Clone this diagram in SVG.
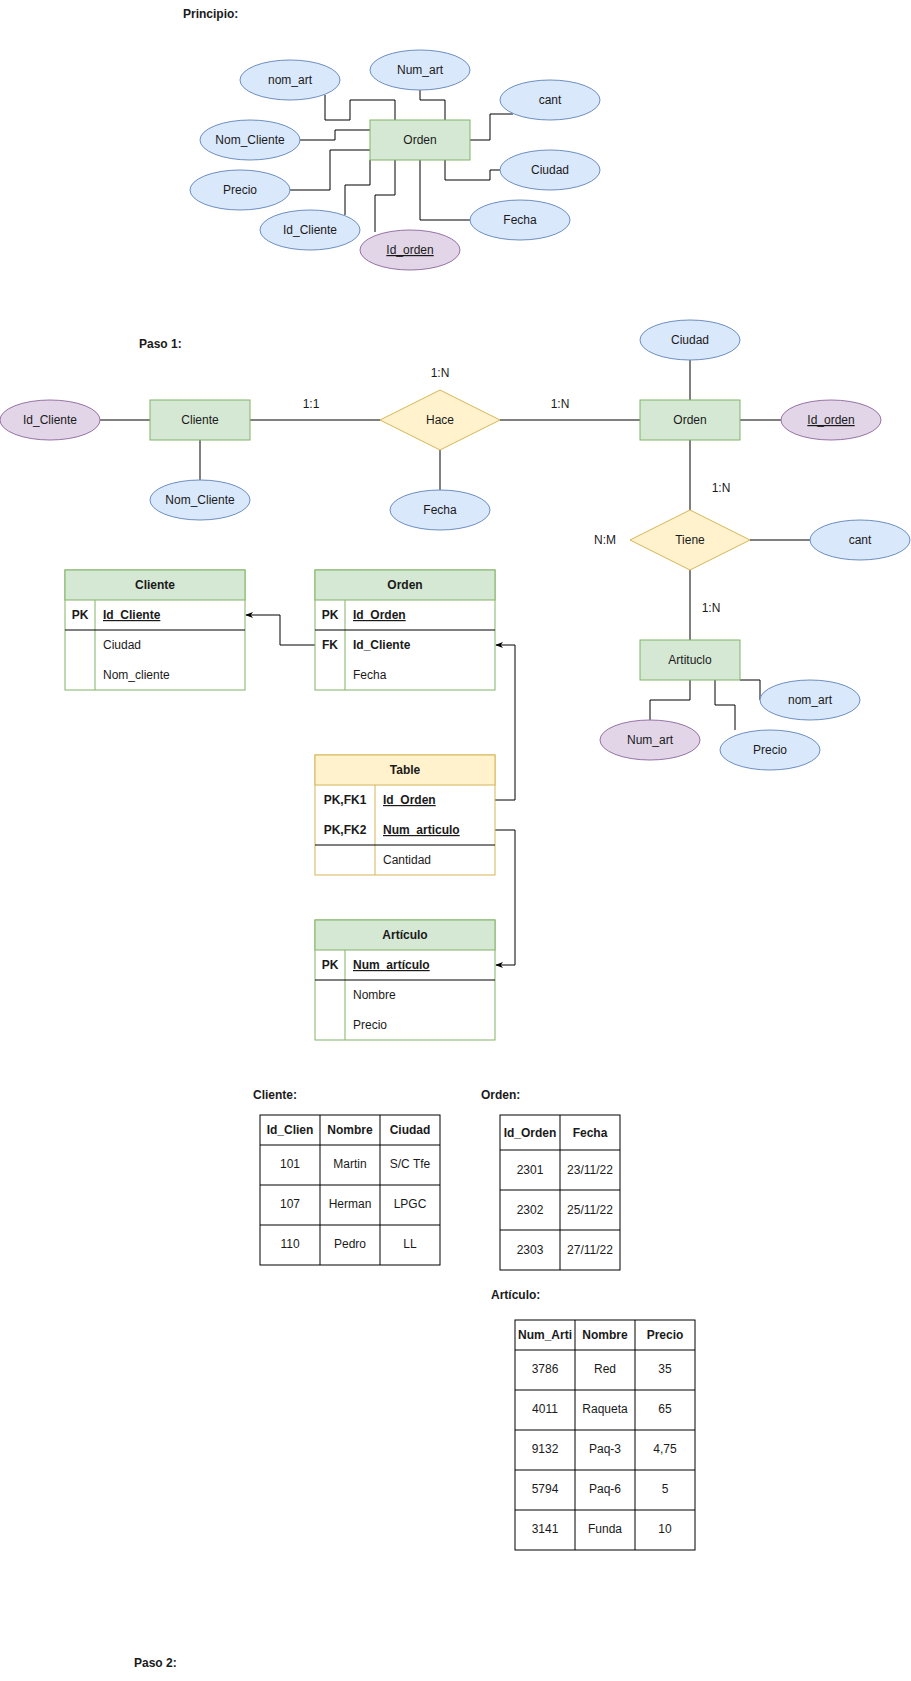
<svg xmlns="http://www.w3.org/2000/svg" width="911" height="1681" viewBox="0 0 911 1681">
<defs>
<style>
text{font-family:"Liberation Sans",Arial,Helvetica,sans-serif;font-size:12px;fill:#1a1a1a}
.c{text-anchor:middle}
.b{font-weight:bold}
.u{text-decoration:underline}
.blue{fill:#dae8fc;stroke:#6c8ebf;stroke-width:1}
.green{fill:#d5e8d4;stroke:#82b366;stroke-width:1}
.purple{fill:#e1d5e7;stroke:#9673a6;stroke-width:1}
.yellow{fill:#fff2cc;stroke:#d6b656;stroke-width:1}
.edge{fill:none;stroke:#000;stroke-width:1}
.gbox{fill:#fff;stroke:#82b366;stroke-width:1}
.ybox{fill:#fff;stroke:#d6b656;stroke-width:1}
.sep{stroke:#000;stroke-width:1}
.gl{stroke:#82b366;stroke-width:1}
.yl{stroke:#d6b656;stroke-width:1}
.cell{fill:#fff;stroke:#000;stroke-width:1}
</style>
<marker id="arr" viewBox="0 0 10 10" refX="9" refY="5" markerWidth="8" markerHeight="8" markerUnits="userSpaceOnUse" orient="auto">
<path d="M0,1 L10,5 L0,9 L3,5 Z" fill="#000"/>
</marker>
</defs>
<rect width="911" height="1681" fill="#fff"/>

<!-- Titles -->
<g id="titles">
<text x="183" y="18" class="b">Principio:</text>
<text x="139" y="348" class="b">Paso 1:</text>
<text x="253" y="1099" class="b">Cliente:</text>
<text x="481" y="1099" class="b">Orden:</text>
<text x="491" y="1299" class="b">Artículo:</text>
<text x="134" y="1667" class="b">Paso 2:</text>
</g>

<!-- Connectors -->
<g id="connectors">
<!-- Principio -->
<path class="edge" d="M325,95 V120 H350 V100 H395 V120"/>
<path class="edge" d="M420,90 V100 H445 V120"/>
<path class="edge" d="M470,140 H490 V114 H513"/>
<path class="edge" d="M300,140 H335 V130 H370"/>
<path class="edge" d="M290,190 H330 V150 H370"/>
<path class="edge" d="M345,215 V185 H370 V160"/>
<path class="edge" d="M375,232 V195 H395 V160"/>
<path class="edge" d="M420,160 V220 H470"/>
<path class="edge" d="M445,160 V180 H490 V170 H500"/>
<!-- Paso 1 -->
<path class="edge" d="M100,420 H150"/>
<path class="edge" d="M250,420 H380"/>
<path class="edge" d="M500,420 H640"/>
<path class="edge" d="M740,420 H781"/>
<path class="edge" d="M690,360 V400"/>
<path class="edge" d="M200,440 V480"/>
<path class="edge" d="M440,450 V490"/>
<path class="edge" d="M690,440 V510"/>
<path class="edge" d="M750,540 H810"/>
<path class="edge" d="M690,570 V640"/>
<path class="edge" d="M690,680 V700 H650 V720"/>
<path class="edge" d="M715,680 V705 H735 V730"/>
<path class="edge" d="M740,680 H760 V700"/>
<!-- Relational -->
<path class="edge" d="M315,645 H280 V615 H246" marker-end="url(#arr)"/>
<path class="edge" d="M495,800 H515 V645 H496" marker-end="url(#arr)"/>
<path class="edge" d="M495,830 H515 V965 H496" marker-end="url(#arr)"/>
</g>

<!-- Principio nodes -->
<g id="p-nom_art"><ellipse class="blue" cx="290" cy="80" rx="50" ry="20"/><text class="c" x="290" y="84">nom_art</text></g>
<g id="p-num_art"><ellipse class="blue" cx="420" cy="70" rx="50" ry="20"/><text class="c" x="420" y="74">Num_art</text></g>
<g id="p-cant"><ellipse class="blue" cx="550" cy="100" rx="50" ry="20"/><text class="c" x="550" y="104">cant</text></g>
<g id="p-orden"><rect class="green" x="370" y="120" width="100" height="40"/><text class="c" x="420" y="144">Orden</text></g>
<g id="p-nom_cliente"><ellipse class="blue" cx="250" cy="140" rx="50" ry="20"/><text class="c" x="250" y="144">Nom_Cliente</text></g>
<g id="p-ciudad"><ellipse class="blue" cx="550" cy="170" rx="50" ry="20"/><text class="c" x="550" y="174">Ciudad</text></g>
<g id="p-precio"><ellipse class="blue" cx="240" cy="190" rx="50" ry="20"/><text class="c" x="240" y="194">Precio</text></g>
<g id="p-id_cliente"><ellipse class="blue" cx="310" cy="230" rx="50" ry="20"/><text class="c" x="310" y="234">Id_Cliente</text></g>
<g id="p-fecha"><ellipse class="blue" cx="520" cy="220" rx="50" ry="20"/><text class="c" x="520" y="224">Fecha</text></g>
<g id="p-id_orden"><ellipse class="purple" cx="410" cy="250" rx="50" ry="20"/><text class="c u" x="410" y="254">Id_orden</text></g>

<!-- Paso 1 nodes -->
<g id="s1-id_cliente"><ellipse class="purple" cx="50" cy="420" rx="50" ry="20"/><text class="c" x="50" y="424">Id_Cliente</text></g>
<g id="s1-cliente"><rect class="green" x="150" y="400" width="100" height="40"/><text class="c" x="200" y="424">Cliente</text></g>
<g id="s1-nom_cliente"><ellipse class="blue" cx="200" cy="500" rx="50" ry="20"/><text class="c" x="200" y="504">Nom_Cliente</text></g>
<g id="s1-hace"><polygon class="yellow" points="440,390 500,420 440,450 380,420"/><text class="c" x="440" y="424">Hace</text></g>
<g id="s1-fecha"><ellipse class="blue" cx="440" cy="510" rx="50" ry="20"/><text class="c" x="440" y="514">Fecha</text></g>
<g id="s1-ciudad"><ellipse class="blue" cx="690" cy="340" rx="50" ry="20"/><text class="c" x="690" y="344">Ciudad</text></g>
<g id="s1-orden"><rect class="green" x="640" y="400" width="100" height="40"/><text class="c" x="690" y="424">Orden</text></g>
<g id="s1-id_orden"><ellipse class="purple" cx="831" cy="420" rx="50" ry="20"/><text class="c u" x="831" y="424">Id_orden</text></g>
<g id="s1-tiene"><polygon class="yellow" points="690,510 750,540 690,570 630,540"/><text class="c" x="690" y="544">Tiene</text></g>
<g id="s1-cant"><ellipse class="blue" cx="860" cy="540" rx="50" ry="20"/><text class="c" x="860" y="544">cant</text></g>
<g id="s1-articulo"><rect class="green" x="640" y="640" width="100" height="40"/><text class="c" x="690" y="664">Artituclo</text></g>
<g id="s1-nom_art"><ellipse class="blue" cx="810" cy="700" rx="50" ry="20"/><text class="c" x="810" y="704">nom_art</text></g>
<g id="s1-num_art"><ellipse class="purple" cx="650" cy="740" rx="50" ry="20"/><text class="c" x="650" y="744">Num_art</text></g>
<g id="s1-precio"><ellipse class="blue" cx="770" cy="750" rx="50" ry="20"/><text class="c" x="770" y="754">Precio</text></g>
<g id="s1-labels">
<text class="c" x="440" y="377">1:N</text>
<text class="c" x="311" y="408">1:1</text>
<text class="c" x="560" y="408">1:N</text>
<text class="c" x="721" y="492">1:N</text>
<text class="c" x="605" y="544">N:M</text>
<text class="c" x="711" y="612">1:N</text>
</g>

<!-- ER tables -->
<g id="t-cliente">
<rect class="gbox" x="65" y="570" width="180" height="120"/>
<rect class="green" x="65" y="570" width="180" height="30"/>
<line class="gl" x1="95" y1="600" x2="95" y2="690"/>
<line class="sep" x1="65" y1="630" x2="245" y2="630"/>
<text class="c b" x="155" y="589">Cliente</text>
<text class="c b" x="80" y="619">PK</text>
<text class="b u" x="103" y="619">Id_Cliente</text>
<text x="103" y="649">Ciudad</text>
<text x="103" y="679">Nom_cliente</text>
</g>
<g id="t-orden">
<rect class="gbox" x="315" y="570" width="180" height="120"/>
<rect class="green" x="315" y="570" width="180" height="30"/>
<line class="gl" x1="345" y1="600" x2="345" y2="690"/>
<line class="sep" x1="315" y1="630" x2="495" y2="630"/>
<text class="c b" x="405" y="589">Orden</text>
<text class="c b" x="330" y="619">PK</text>
<text class="b u" x="353" y="619">Id_Orden</text>
<text class="c b" x="330" y="649">FK</text>
<text class="b" x="353" y="649">Id_Cliente</text>
<text x="353" y="679">Fecha</text>
</g>
<g id="t-table">
<rect class="ybox" x="315" y="755" width="180" height="120"/>
<rect class="yellow" x="315" y="755" width="180" height="30"/>
<line class="yl" x1="375" y1="785" x2="375" y2="875"/>
<line class="sep" x1="315" y1="845" x2="495" y2="845"/>
<text class="c b" x="405" y="774">Table</text>
<text class="c b" x="345" y="804">PK,FK1</text>
<text class="b u" x="383" y="804">Id_Orden</text>
<text class="c b" x="345" y="834">PK,FK2</text>
<text class="b u" x="383" y="834">Num_articulo</text>
<text x="383" y="864">Cantidad</text>
</g>
<g id="t-articulo">
<rect class="gbox" x="315" y="920" width="180" height="120"/>
<rect class="green" x="315" y="920" width="180" height="30"/>
<line class="gl" x1="345" y1="950" x2="345" y2="1040"/>
<line class="sep" x1="315" y1="980" x2="495" y2="980"/>
<text class="c b" x="405" y="939">Artículo</text>
<text class="c b" x="330" y="969">PK</text>
<text class="b u" x="353" y="969">Num_artículo</text>
<text x="353" y="999">Nombre</text>
<text x="353" y="1029">Precio</text>
</g>

<!-- Data tables -->
<g id="d-cliente">
<rect class="cell" x="260" y="1115" width="180" height="150"/>
<line class="sep" x1="320" y1="1115" x2="320" y2="1265"/>
<line class="sep" x1="380" y1="1115" x2="380" y2="1265"/>
<line class="sep" x1="260" y1="1145" x2="440" y2="1145"/>
<line class="sep" x1="260" y1="1185" x2="440" y2="1185"/>
<line class="sep" x1="260" y1="1225" x2="440" y2="1225"/>
<text class="c b" x="290" y="1134">Id_Clien</text>
<text class="c b" x="350" y="1134">Nombre</text>
<text class="c b" x="410" y="1134">Ciudad</text>
<text class="c" x="290" y="1168">101</text>
<text class="c" x="350" y="1168">Martin</text>
<text class="c" x="410" y="1168">S/C Tfe</text>
<text class="c" x="290" y="1208">107</text>
<text class="c" x="350" y="1208">Herman</text>
<text class="c" x="410" y="1208">LPGC</text>
<text class="c" x="290" y="1248">110</text>
<text class="c" x="350" y="1248">Pedro</text>
<text class="c" x="410" y="1248">LL</text>
</g>
<g id="d-orden">
<rect class="cell" x="500" y="1115" width="120" height="155"/>
<line class="sep" x1="560" y1="1115" x2="560" y2="1270"/>
<line class="sep" x1="500" y1="1150" x2="620" y2="1150"/>
<line class="sep" x1="500" y1="1190" x2="620" y2="1190"/>
<line class="sep" x1="500" y1="1230" x2="620" y2="1230"/>
<text class="c b" x="530" y="1137">Id_Orden</text>
<text class="c b" x="590" y="1137">Fecha</text>
<text class="c" x="530" y="1174">2301</text>
<text class="c" x="590" y="1174">23/11/22</text>
<text class="c" x="530" y="1214">2302</text>
<text class="c" x="590" y="1214">25/11/22</text>
<text class="c" x="530" y="1254">2303</text>
<text class="c" x="590" y="1254">27/11/22</text>
</g>
<g id="d-articulo">
<rect class="cell" x="515" y="1320" width="180" height="230"/>
<line class="sep" x1="575" y1="1320" x2="575" y2="1550"/>
<line class="sep" x1="635" y1="1320" x2="635" y2="1550"/>
<line class="sep" x1="515" y1="1350" x2="695" y2="1350"/>
<line class="sep" x1="515" y1="1390" x2="695" y2="1390"/>
<line class="sep" x1="515" y1="1430" x2="695" y2="1430"/>
<line class="sep" x1="515" y1="1470" x2="695" y2="1470"/>
<line class="sep" x1="515" y1="1510" x2="695" y2="1510"/>
<text class="c b" x="545" y="1339">Num_Arti</text>
<text class="c b" x="605" y="1339">Nombre</text>
<text class="c b" x="665" y="1339">Precio</text>
<text class="c" x="545" y="1373">3786</text>
<text class="c" x="605" y="1373">Red</text>
<text class="c" x="665" y="1373">35</text>
<text class="c" x="545" y="1413">4011</text>
<text class="c" x="605" y="1413">Raqueta</text>
<text class="c" x="665" y="1413">65</text>
<text class="c" x="545" y="1453">9132</text>
<text class="c" x="605" y="1453">Paq-3</text>
<text class="c" x="665" y="1453">4,75</text>
<text class="c" x="545" y="1493">5794</text>
<text class="c" x="605" y="1493">Paq-6</text>
<text class="c" x="665" y="1493">5</text>
<text class="c" x="545" y="1533">3141</text>
<text class="c" x="605" y="1533">Funda</text>
<text class="c" x="665" y="1533">10</text>
</g>
</svg>
